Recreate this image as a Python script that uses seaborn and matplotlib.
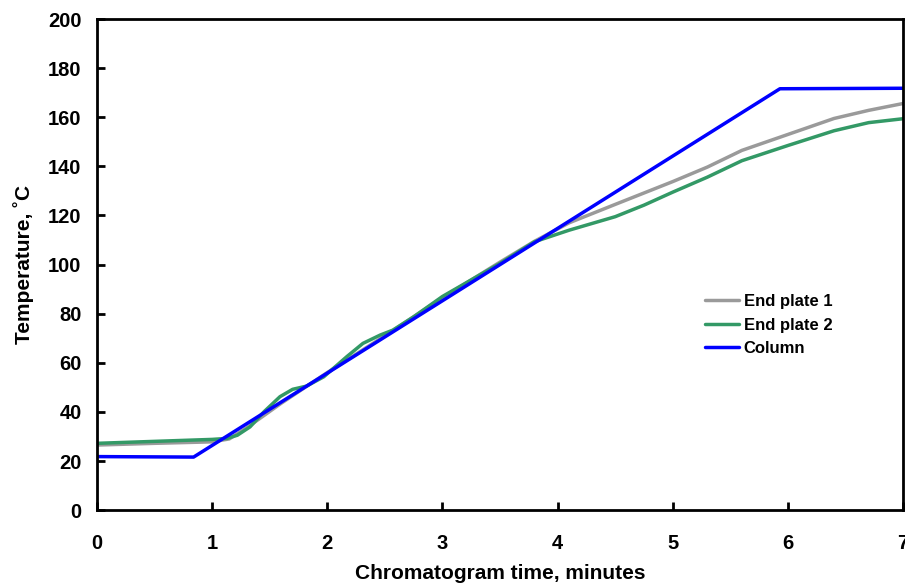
import numpy as np
import pandas as pd
import matplotlib
matplotlib.use("Agg")
import matplotlib.pyplot as plt
import seaborn as sns

# Data
column_t = [0.0, 0.84, 5.93, 7.0]
column_temp = [21.8, 21.6, 171.6, 171.8]

plate1_t = [0.0, 0.5, 1.0, 1.15, 1.3, 1.6, 2.0, 2.5, 3.0, 3.5, 3.8, 4.1, 4.5, 5.0, 5.3, 5.6, 6.0, 6.4, 6.7, 7.0]
plate1_temp = [26.5, 27.2, 27.8, 29.0, 33.5, 43.5, 56.0, 71.0, 86.5, 101.0, 109.5, 117.0, 124.5, 133.8, 139.7, 146.5, 153.0, 159.5, 162.8, 165.6]

plate2_t = [0.0, 0.5, 1.0, 1.13, 1.22, 1.33, 1.45, 1.59, 1.70, 1.82, 1.97, 2.17, 2.31, 2.46, 2.57, 2.75, 3.0, 3.5, 3.8, 4.1, 4.5, 4.75, 5.0, 5.3, 5.6, 6.0, 6.4, 6.7, 7.0]
plate2_temp = [27.2, 28.0, 28.8, 29.2, 30.5, 33.9, 40.0, 46.2, 49.2, 50.5, 54.3, 62.5, 67.9, 71.3, 73.3, 78.7, 87.0, 100.5, 109.3, 114.0, 119.5, 124.2, 129.5, 135.6, 142.3, 148.5, 154.5, 157.8, 159.4]

series_names = ["End plate 1", "End plate 2", "Column"]
colors = ["#9a9a9a", "#339966", "#0000ff"]

frames = []
for name, t, v in [("End plate 1", plate1_t, plate1_temp),
                   ("End plate 2", plate2_t, plate2_temp),
                   ("Column", column_t, column_temp)]:
    frames.append(pd.DataFrame({"time": t, "temp": v, "series": name}))
df = pd.concat(frames, ignore_index=True)

sns.set_style("white")
plt.rcParams['font.family'] = ['Liberation Sans', 'DejaVu Sans']
plt.rcParams['font.weight'] = 'bold'
plt.rcParams['text.color'] = 'black'
plt.rcParams['axes.labelcolor'] = 'black'
plt.rcParams['xtick.color'] = 'black'
plt.rcParams['ytick.color'] = 'black'

fig = plt.figure(figsize=(9.05, 5.85), dpi=100)
ax = fig.add_axes([0.107, 0.128, 0.891, 0.8395])

sns.lineplot(data=df, x="time", y="temp", hue="series", hue_order=series_names,
             palette=colors, linewidth=2.5, ax=ax, sort=False, estimator=None)

ax.set_xlim(0, 7)
ax.set_ylim(0, 200)
ax.set_xticks(range(0, 8))
ax.set_yticks(range(0, 201, 20))
ax.tick_params(axis="both", direction="in", length=6, width=2, labelsize=14.5,
               colors="black", top=False, right=False, left=True, bottom=True)
ax.tick_params(axis="x", pad=17)
ax.tick_params(axis="y", pad=11)
for lab in ax.get_xticklabels() + ax.get_yticklabels():
    lab.set_fontweight("bold")
for sp in ax.spines.values():
    sp.set_visible(True)
    sp.set_linewidth(2)
    sp.set_color("black")

ax.set_xlabel("Chromatogram time, minutes", fontsize=15, fontweight="bold",
              labelpad=8, color="black")
ax.set_ylabel("Temperature, \u02daC", fontsize=15, fontweight="bold",
              labelpad=10, color="black")

leg = ax.legend(loc="upper left", bbox_to_anchor=(0.736, 0.47), frameon=False,
                fontsize=12, handlelength=2.0, handletextpad=0.3, labelspacing=0.5)
for t in leg.get_texts():
    t.set_fontweight("bold")
    t.set_color("black")
for line in leg.get_lines():
    line.set_linewidth(2.5)

fig.savefig("out.png", dpi=100)
